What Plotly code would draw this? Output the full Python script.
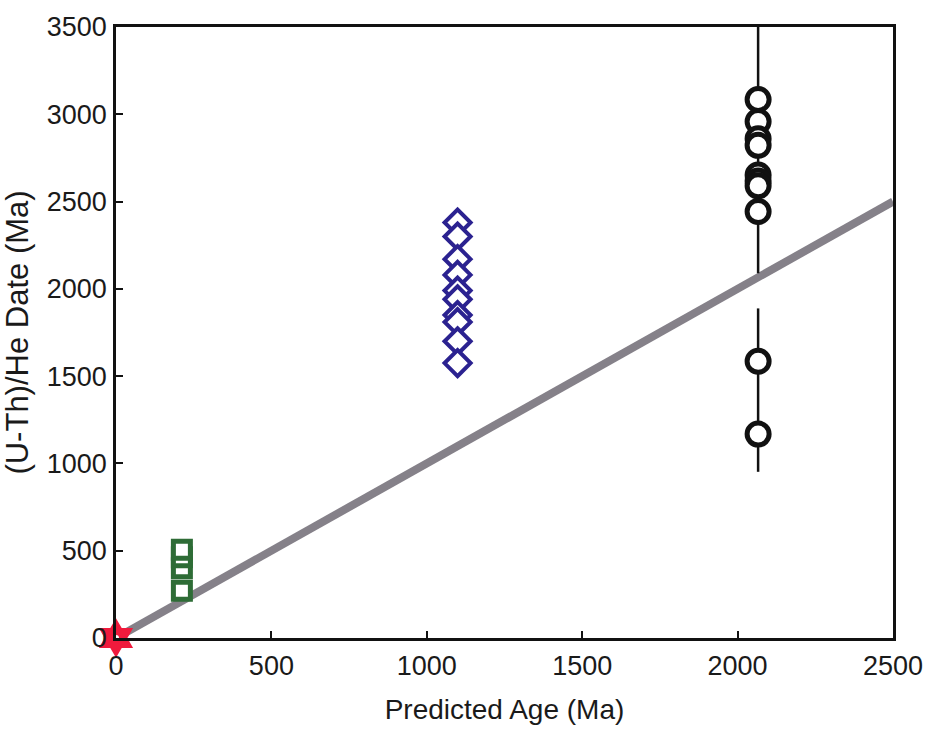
import plotly.graph_objects as go

# Data (Ma)
star_x = [0]
star_y = [0]

square_x = [212, 212, 212, 212]
square_y = [270, 400, 462, 505]

diamond_x = [1099] * 10
diamond_y = [2380, 2300, 2170, 2080, 1990, 1940, 1850, 1810, 1700, 1575]

circle_x = [2066] * 10
circle_y = [3085, 2958, 2860, 2822, 2652, 2618, 2590, 2443, 1585, 1168]

# vertical uncertainty bars for the 2066 Ma group: (x, low, high)
bar_x = [2066, 2066]
bar_low = [2090, 952]
bar_high = [3700, 1888]

line_x = [0, 2500]
line_y = [0, 2500]

FONT = "Liberation Sans, Arial, sans-serif"

fig = go.Figure()

# 1:1 reference line
fig.add_trace(go.Scatter(x=line_x, y=line_y, mode="lines",
                         line=dict(color="#858189", width=8),
                         hoverinfo="skip", showlegend=False))

# uncertainty bars
bx, by = [], []
for x, lo, hi in zip(bar_x, bar_low, bar_high):
    bx += [x, x, None]
    by += [lo, hi, None]
fig.add_trace(go.Scatter(x=bx, y=by, mode="lines",
                         line=dict(color="#111111", width=2.5),
                         showlegend=False))

fig.add_trace(go.Scatter(x=square_x, y=square_y, mode="markers",
                         marker=dict(symbol="square", size=17, color="white",
                                     line=dict(color="#2e6c36", width=5)),
                         showlegend=False))

fig.add_trace(go.Scatter(x=diamond_x, y=diamond_y, mode="markers",
                         marker=dict(symbol="diamond", size=20, color="white",
                                     line=dict(color="#2b2290", width=4)),
                         showlegend=False))

fig.add_trace(go.Scatter(x=circle_x, y=circle_y, mode="markers",
                         marker=dict(symbol="circle", size=22, color="white",
                                     line=dict(color="#111111", width=5)),
                         showlegend=False))

fig.add_trace(go.Scatter(x=star_x, y=star_y, mode="markers", cliponaxis=False,
                         marker=dict(symbol="hexagram", size=30, color="#f01a3c",
                                     line=dict(width=0)),
                         showlegend=False))
fig.add_trace(go.Scatter(x=star_x, y=star_y, mode="markers", cliponaxis=False,
                         marker=dict(symbol="circle", size=6, color="white",
                                     line=dict(width=0)),
                         showlegend=False))

axis_common = dict(
    showgrid=False, zeroline=False, showline=True, linecolor="#111111",
    linewidth=2.5, mirror=True, ticks="inside", ticklen=7, tickwidth=1.5,
    tickcolor="#111111",
    tickfont=dict(family=FONT, size=27, color="#1a1a1a"),
)

fig.update_layout(
    width=935, height=734,
    margin=dict(l=116, r=37, t=20, b=96),
    paper_bgcolor="white", plot_bgcolor="white",
    xaxis=dict(range=[0, 2500], tickvals=[0, 500, 1000, 1500, 2000, 2500],
               ticklabelstandoff=2,
               title=dict(text="Predicted Age (Ma)", standoff=20,
                          font=dict(family=FONT, size=28, color="#1a1a1a")),
               **axis_common),
    yaxis=dict(range=[0, 3500], tickvals=[0, 500, 1000, 1500, 2000, 2500, 3000, 3500],
               ticklabelstandoff=1,
               title=dict(text="(U-Th)/He Date (Ma)", standoff=10,
                          font=dict(family=FONT, size=31, color="#1a1a1a")),
               **axis_common),
)

fig.write_html("out.html")
